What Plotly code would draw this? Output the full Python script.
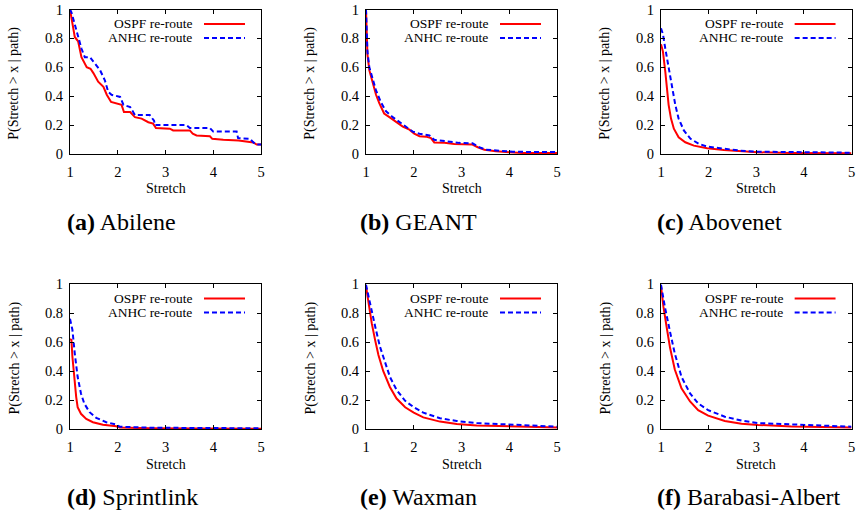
import plotly.graph_objects as go

# ---------------- data ----------------
x_ticks = [1, 2, 3, 4, 5]
x_tick_labels = ["1", "2", "3", "4", "5"]
y_ticks = [0, 0.2, 0.4, 0.6, 0.8, 1]
y_tick_labels = ["0", "0.2", "0.4", "0.6", "0.8", "1"]

series_names = ["OSPF re-route", "ANHC re-route"]
captions_bold = ["(a)", "(b)", "(c)", "(d)", "(e)", "(f)"]
captions_text = ["Abilene", "GEANT", "Abovenet", "Sprintlink", "Waxman", "Barabasi-Albert"]
x_title = "Stretch"
y_title = "P(Stretch > x | path)"

# (a) Abilene
abilene_ospf_x = [1.0, 1.10, 1.17, 1.24, 1.35, 1.43, 1.49, 1.59, 1.70, 1.77, 1.86, 1.97, 2.08, 2.13, 2.26, 2.36,
                  2.50, 2.64, 2.74, 2.80, 3.09, 3.16, 3.51, 3.57, 3.65, 3.93, 3.98, 4.21, 4.53, 4.84, 4.91, 5.0]
abilene_ospf_y = [1.0, 0.81, 0.78, 0.67, 0.60, 0.59, 0.56, 0.50, 0.465, 0.41, 0.36, 0.35, 0.34, 0.29, 0.29, 0.255,
                  0.245, 0.22, 0.21, 0.18, 0.175, 0.163, 0.163, 0.14, 0.128, 0.123, 0.105, 0.098, 0.093, 0.08, 0.065, 0.065]
abilene_anhc_x = [1.0, 1.03, 1.14, 1.24, 1.31, 1.42, 1.49, 1.63, 1.73, 1.80, 1.87, 2.05, 2.12, 2.26, 2.36, 2.67,
                  2.76, 2.78, 3.44, 3.51, 3.93, 4.0, 4.49, 4.52, 4.77, 4.84, 4.91, 5.0]
abilene_anhc_y = [1.0, 0.98, 0.85, 0.73, 0.67, 0.67, 0.64, 0.58, 0.51, 0.43, 0.41, 0.395, 0.34, 0.325, 0.27, 0.27,
                  0.23, 0.20, 0.20, 0.18, 0.18, 0.155, 0.155, 0.11, 0.105, 0.08, 0.065, 0.065]

# (b) GEANT
geant_ospf_x = [1.0, 1.01, 1.03, 1.07, 1.14, 1.21, 1.28, 1.38, 1.49, 1.63, 1.77, 1.91, 2.01, 2.12, 2.26, 2.36,
                2.43, 2.64, 2.85, 3.23, 3.34, 3.48, 3.72, 4.0, 4.28, 5.0]
geant_ospf_y = [1.0, 0.80, 0.69, 0.58, 0.49, 0.41, 0.35, 0.28, 0.255, 0.22, 0.19, 0.168, 0.14, 0.123, 0.12, 0.11,
                0.08, 0.077, 0.07, 0.065, 0.047, 0.03, 0.019, 0.012, 0.007, 0.007]
geant_anhc_x = [1.0, 1.01, 1.03, 1.07, 1.14, 1.21, 1.31, 1.42, 1.56, 1.70, 1.84, 1.98, 2.12, 2.33, 2.43, 2.67,
                2.95, 3.23, 3.37, 3.51, 3.79, 4.07, 4.42, 5.0]
geant_anhc_y = [1.0, 0.83, 0.71, 0.60, 0.51, 0.44, 0.36, 0.295, 0.255, 0.22, 0.19, 0.155, 0.14, 0.128, 0.098, 0.086,
                0.077, 0.074, 0.047, 0.03, 0.021, 0.016, 0.014, 0.014]

# (c) Abovenet
abovenet_ospf_x = [1.0, 1.04, 1.09, 1.13, 1.16, 1.21, 1.27, 1.37, 1.51, 1.69, 1.97, 2.32, 2.67, 3.02, 3.72, 5.0]
abovenet_ospf_y = [0.76, 0.71, 0.57, 0.45, 0.34, 0.245, 0.175, 0.116, 0.081, 0.058, 0.04, 0.028, 0.019, 0.012, 0.007, 0.005]
abovenet_anhc_x = [1.0, 1.04, 1.09, 1.16, 1.23, 1.30, 1.37, 1.48, 1.62, 1.80, 1.97, 2.32, 2.67, 3.02, 3.72, 5.0]
abovenet_anhc_y = [0.87, 0.83, 0.73, 0.59, 0.45, 0.34, 0.245, 0.163, 0.105, 0.07, 0.051, 0.035, 0.023, 0.016, 0.012, 0.009]

# (d) Sprintlink
sprint_ospf_x = [1.0, 1.03, 1.05, 1.09, 1.13, 1.16, 1.23, 1.34, 1.48, 1.69, 1.97, 2.04, 2.67, 5.0]
sprint_ospf_y = [0.62, 0.615, 0.50, 0.34, 0.22, 0.15, 0.105, 0.07, 0.047, 0.03, 0.019, 0.01, 0.005, 0.002]
sprint_anhc_x = [1.0, 1.05, 1.10, 1.16, 1.23, 1.30, 1.41, 1.55, 1.76, 1.97, 2.04, 2.67, 3.72, 5.0]
sprint_anhc_y = [0.76, 0.685, 0.52, 0.36, 0.245, 0.175, 0.116, 0.077, 0.047, 0.03, 0.016, 0.009, 0.007, 0.005]

# (e) Waxman
waxman_ospf_x = [1.0, 1.05, 1.12, 1.19, 1.26, 1.36, 1.50, 1.64, 1.82, 2.0, 2.20, 2.55, 2.90, 3.32, 3.95, 4.51, 5.0]
waxman_ospf_y = [0.985, 0.87, 0.73, 0.615, 0.51, 0.40, 0.29, 0.21, 0.15, 0.113, 0.08, 0.051, 0.035, 0.025, 0.018, 0.014, 0.01]
waxman_anhc_x = [1.0, 1.08, 1.19, 1.29, 1.40, 1.50, 1.64, 1.82, 2.0, 2.20, 2.55, 2.90, 3.32, 3.95, 4.51, 5.0]
waxman_anhc_y = [0.995, 0.87, 0.71, 0.57, 0.455, 0.36, 0.27, 0.194, 0.15, 0.113, 0.074, 0.055, 0.041, 0.03, 0.023, 0.016]

# (f) Barabasi-Albert
ba_ospf_x = [1.0, 1.05, 1.12, 1.19, 1.29, 1.43, 1.61, 1.78, 1.99, 2.34, 2.69, 3.04, 3.74, 4.44, 5.0]
ba_ospf_y = [0.985, 0.845, 0.70, 0.56, 0.41, 0.28, 0.19, 0.13, 0.092, 0.055, 0.037, 0.028, 0.018, 0.014, 0.01]
ba_anhc_x = [1.0, 1.08, 1.19, 1.29, 1.43, 1.61, 1.78, 1.99, 2.34, 2.69, 3.04, 3.74, 4.44, 5.0]
ba_anhc_y = [0.995, 0.845, 0.67, 0.52, 0.36, 0.245, 0.177, 0.13, 0.085, 0.058, 0.041, 0.03, 0.023, 0.016]

panels = [
    (abilene_ospf_x, abilene_ospf_y, abilene_anhc_x, abilene_anhc_y),
    (geant_ospf_x, geant_ospf_y, geant_anhc_x, geant_anhc_y),
    (abovenet_ospf_x, abovenet_ospf_y, abovenet_anhc_x, abovenet_anhc_y),
    (sprint_ospf_x, sprint_ospf_y, sprint_anhc_x, sprint_anhc_y),
    (waxman_ospf_x, waxman_ospf_y, waxman_anhc_x, waxman_anhc_y),
    (ba_ospf_x, ba_ospf_y, ba_anhc_x, ba_anhc_y),
]

# ---------------- layout geometry ----------------
W, H = 861, 515
FONT = "Liberation Serif, Times New Roman, DejaVu Serif, serif"
col_px = [(70, 261), (366, 557), (661, 851.5)]
row_px = [(9.5, 154), (284, 429)]
caption_left_px = [65, 358, 655]
caption_y_px = [222, 497]

fig = go.Figure()
layout_axes = {}
annotations = []
shapes = []

for i, (ox, oy, ax_, ay_) in enumerate(panels):
    r, c = divmod(i, 3)
    n = "" if i == 0 else str(i + 1)
    xa, ya = "x" + n, "y" + n
    x0, x1 = col_px[c]
    t, b = row_px[r]
    fig.add_trace(go.Scatter(x=ox, y=oy, mode="lines", xaxis=xa, yaxis=ya, name=series_names[0],
                             line=dict(color="#ff0000", width=2), showlegend=False))
    fig.add_trace(go.Scatter(x=ax_, y=ay_, mode="lines", xaxis=xa, yaxis=ya, name=series_names[1],
                             line=dict(color="#0000ff", width=2, dash="5px,3px"), showlegend=False))
    common = dict(showline=True, linecolor="black", linewidth=1, mirror="ticks", ticks="inside",
                  ticklen=4, tickcolor="black", showgrid=False, zeroline=False, automargin=False,
                  tickfont=dict(family=FONT, size=14.5, color="black"))
    layout_axes["xaxis" + n] = dict(common, domain=[x0 / W, x1 / W], range=[1, 5], anchor=ya,
                                    tickvals=x_ticks, ticktext=x_tick_labels, ticklabelstandoff=5)
    layout_axes["yaxis" + n] = dict(common, domain=[1 - b / H, 1 - t / H], range=[0, 1], anchor=xa,
                                    tickvals=y_ticks, ticktext=y_tick_labels, ticklabelstandoff=3)
    # axis titles
    annotations.append(dict(text=x_title, xref="paper", yref="paper", x=(x0 + x1) / 2 / W,
                            y=1 - (b + 35) / H, showarrow=False, xanchor="center", yanchor="middle",
                            font=dict(family=FONT, size=14, color="black")))
    annotations.append(dict(text=y_title, xref="paper", yref="paper", x=(x0 - 56) / W,
                            y=1 - ((t + b) / 2 + 2) / H, showarrow=False, xanchor="center", yanchor="middle",
                            textangle=-90, font=dict(family=FONT, size=14, color="black")))
    # key (gnuplot style: text then sample)
    for k, (nm, col, dash, dy) in enumerate([(series_names[0], "#ff0000", "solid", 14.5),
                                             (series_names[1], "#0000ff", "5px,3px", 28.5)]):
        yk = 1 - dy / (b - t)
        annotations.append(dict(text=nm, xref=xa + " domain", yref=ya + " domain", x=124 / 191, y=yk,
                                xanchor="right", yanchor="middle", showarrow=False,
                                font=dict(family=FONT, size=13.5, color="black")))
        shapes.append(dict(type="line", xref=xa + " domain", yref=ya + " domain",
                           x0=134 / 191, x1=175 / 191, y0=yk, y1=yk,
                           line=dict(color=col, width=2, dash=dash)))
    # caption
    annotations.append(dict(text="<b>" + captions_bold[i] + "</b> " + captions_text[i], xref="paper", yref="paper",
                            x=caption_left_px[c] / W, y=1 - caption_y_px[r] / H, xanchor="left", yanchor="middle",
                            showarrow=False, font=dict(family=FONT, size=24, color="black")))

fig.update_layout(width=W, height=H, margin=dict(l=0, r=0, t=0, b=0, autoexpand=False),
                  paper_bgcolor="white", plot_bgcolor="white", showlegend=False,
                  font=dict(family=FONT, color="black"),
                  annotations=annotations, shapes=shapes, **layout_axes)

fig.write_html("out.html", config={"displayModeBar": False},
               post_script="document.body.style.margin='0';document.body.style.overflow='hidden';")
